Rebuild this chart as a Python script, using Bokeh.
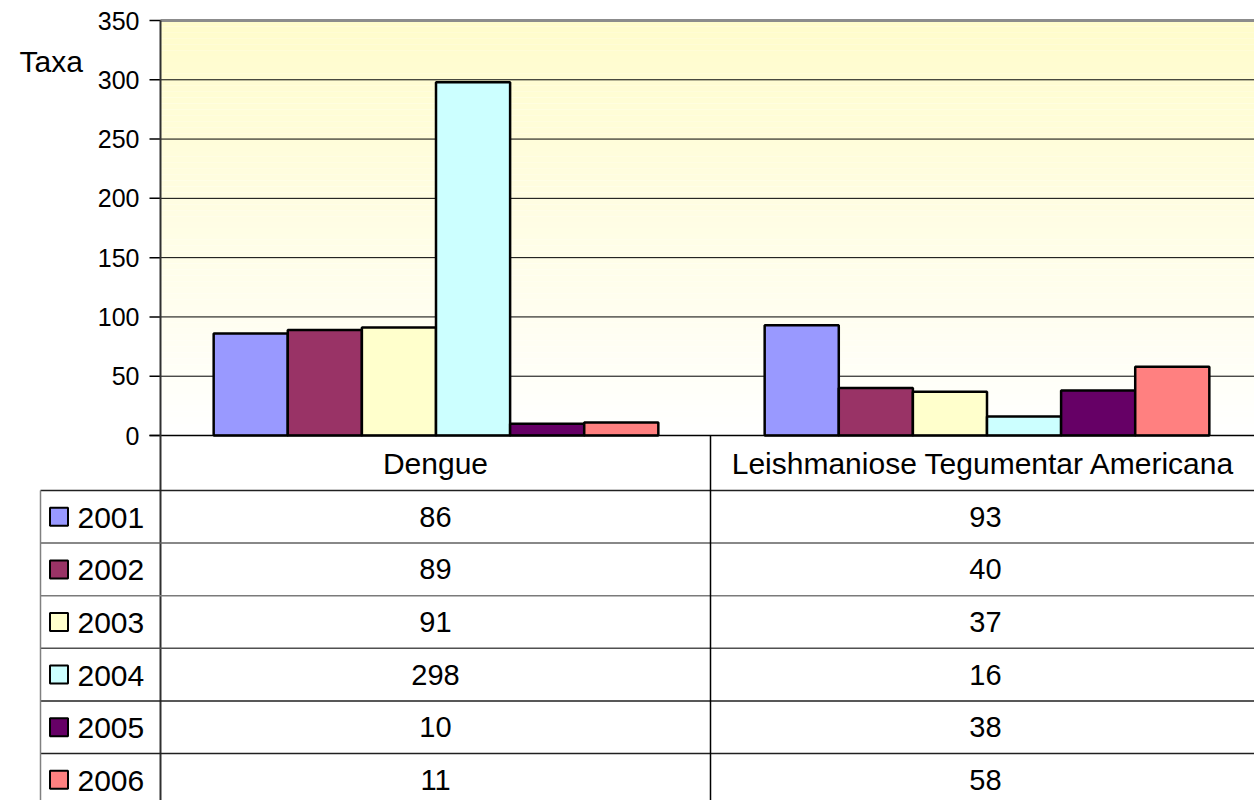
from bokeh.plotting import figure
from bokeh.models import Range1d
from bokeh.core.properties import value
from bokeh.embed import file_html
from bokeh.resources import INLINE

# ---------------- data ----------------
categories = ["Dengue", "Leishmaniose Tegumentar Americana"]
years = ["2001", "2002", "2003", "2004", "2005", "2006"]
dengue = [86, 89, 91, 298, 10, 11]
lta = [93, 40, 37, 16, 38, 58]
y_ticks = [0, 50, 100, 150, 200, 250, 300, 350]
y_label = "Taxa"

# ---------------- layout / style ----------------
colors = ["#9999FF", "#993366", "#FFFFCC", "#CCFFFF", "#660066", "#FF8080"]
FONT = "Liberation Sans"
W, H = 1254, 800
PLOT_L, PLOT_R, PLOT_T, PLOT_B = 160, 1254, 20, 435
YMAX = 350
BAR_W = 0.1345

ppu = (PLOT_B - PLOT_T) / YMAX          # pixels per value unit
cat_px = 551                             # pixels per category slot

p = figure(width=W, height=H, x_range=Range1d(0, W), y_range=Range1d(H, 0),
           output_backend="svg", toolbar_location=None,
           x_axis_location=None, y_axis_location=None,
           min_border_left=0, min_border_right=0, min_border_top=0, min_border_bottom=0)
p.extra_y_ranges = {"val": Range1d(-(H - PLOT_B) / ppu, YMAX + PLOT_T / ppu)}
p.extra_x_ranges = {"cat": Range1d(-PLOT_L / cat_px, (W - PLOT_L) / cat_px)}
p.grid.visible = False
p.outline_line_color = None
p.background_fill_color = "white"
p.border_fill_color = "white"

# gradient background of the plot area (light yellow at top -> white at bottom)
nb = 70
top_rgb = (255, 252, 203)
bb, bt, bc = [], [], []
for k in range(nb):
    f = (k + 0.5) / nb
    c = tuple(int(round(255 + (t - 255) * f)) for t in top_rgb)
    bb.append(YMAX * k / nb)
    bt.append(YMAX * (k + 1) / nb)
    bc.append("#%02x%02x%02x" % c)
p.quad(left=PLOT_L, right=PLOT_R, bottom=bb, top=bt, fill_color=bc, line_color=None,
       y_range_name="val")

# gridlines
grid_vals = [v for v in y_ticks if 0 < v < YMAX]
p.segment(x0=PLOT_L, x1=PLOT_R, y0=grid_vals, y1=grid_vals, line_color="black",
          line_width=1, y_range_name="val")

# bars
for i, y in enumerate(years):
    vals = [dengue[i], lta[i]]
    xs = [j + 0.5 + (i - 2.5) * BAR_W for j in range(len(categories))]
    p.vbar(x=xs, top=vals, bottom=0, width=BAR_W, fill_color=colors[i],
           line_color="black", line_width=2.5, x_range_name="cat", y_range_name="val")

# plot borders
p.segment(x0=PLOT_L, x1=PLOT_R, y0=YMAX, y1=YMAX, line_color="#8c8c8c", line_width=3,
          y_range_name="val")
p.segment(x0=149, x1=PLOT_R, y0=0, y1=0, line_color="black", line_width=1.5,
          y_range_name="val")
p.segment(x0=149, x1=PLOT_L, y0=y_ticks, y1=y_ticks, line_color="black", line_width=1.5,
          y_range_name="val")
p.segment(x0=PLOT_L, x1=PLOT_L, y0=PLOT_T, y1=H, line_color="#303030", line_width=2)

# y tick labels and axis title
p.text(x=[139] * len(y_ticks), y=y_ticks, text=[str(v) for v in y_ticks],
       text_font=value(FONT), text_font_size="25px", text_align="right",
       text_baseline="middle", text_color="black", y_range_name="val")
p.text(x=[19], y=[61], text=[y_label], text_font=value(FONT), text_font_size="30px",
       text_align="left", text_baseline="middle", text_color="black")

# ---------------- data table ----------------
ROW0 = 490
ROW_H = 52.6
col_c = [435, 983]
row_lines = [ROW0 + k * ROW_H for k in range(len(years))]
line_cols = ["#202020", "#606060", "#7a7a7a", "#505050", "#202020", "#202020"]
for yy, lc in zip(row_lines, line_cols):
    p.segment(x0=40, y0=yy, x1=W, y1=yy, line_color=lc, line_width=1.5)
p.segment(x0=710, y0=PLOT_B, x1=710, y1=H, line_color="black", line_width=1.5)
p.segment(x0=40, y0=ROW0, x1=40, y1=H, line_color="#808080", line_width=1.5)

p.text(x=col_c, y=[462.5, 462.5], text=categories, text_font=value(FONT),
       text_font_size="30px", text_align="center", text_baseline="middle",
       text_color="black")

row_c = [ROW0 + ROW_H * (k + 0.5) for k in range(len(years))]
p.text(x=[col_c[0]] * len(years), y=row_c, text=[str(v) for v in dengue],
       text_font=value(FONT), text_font_size="29px", text_align="center",
       text_baseline="middle", text_color="black")
p.text(x=[985] * len(years), y=row_c, text=[str(v) for v in lta],
       text_font=value(FONT), text_font_size="29px", text_align="center",
       text_baseline="middle", text_color="black")
p.rect(x=[58.5] * len(years), y=row_c, width=18, height=18, fill_color=colors,
       line_color="black", line_width=2)
p.text(x=[77] * len(years), y=[c + 1 for c in row_c], text=years, text_font=value(FONT),
       text_font_size="30px", text_align="left", text_baseline="middle",
       text_color="black")

open("out.html", "w").write(file_html(p, INLINE))
